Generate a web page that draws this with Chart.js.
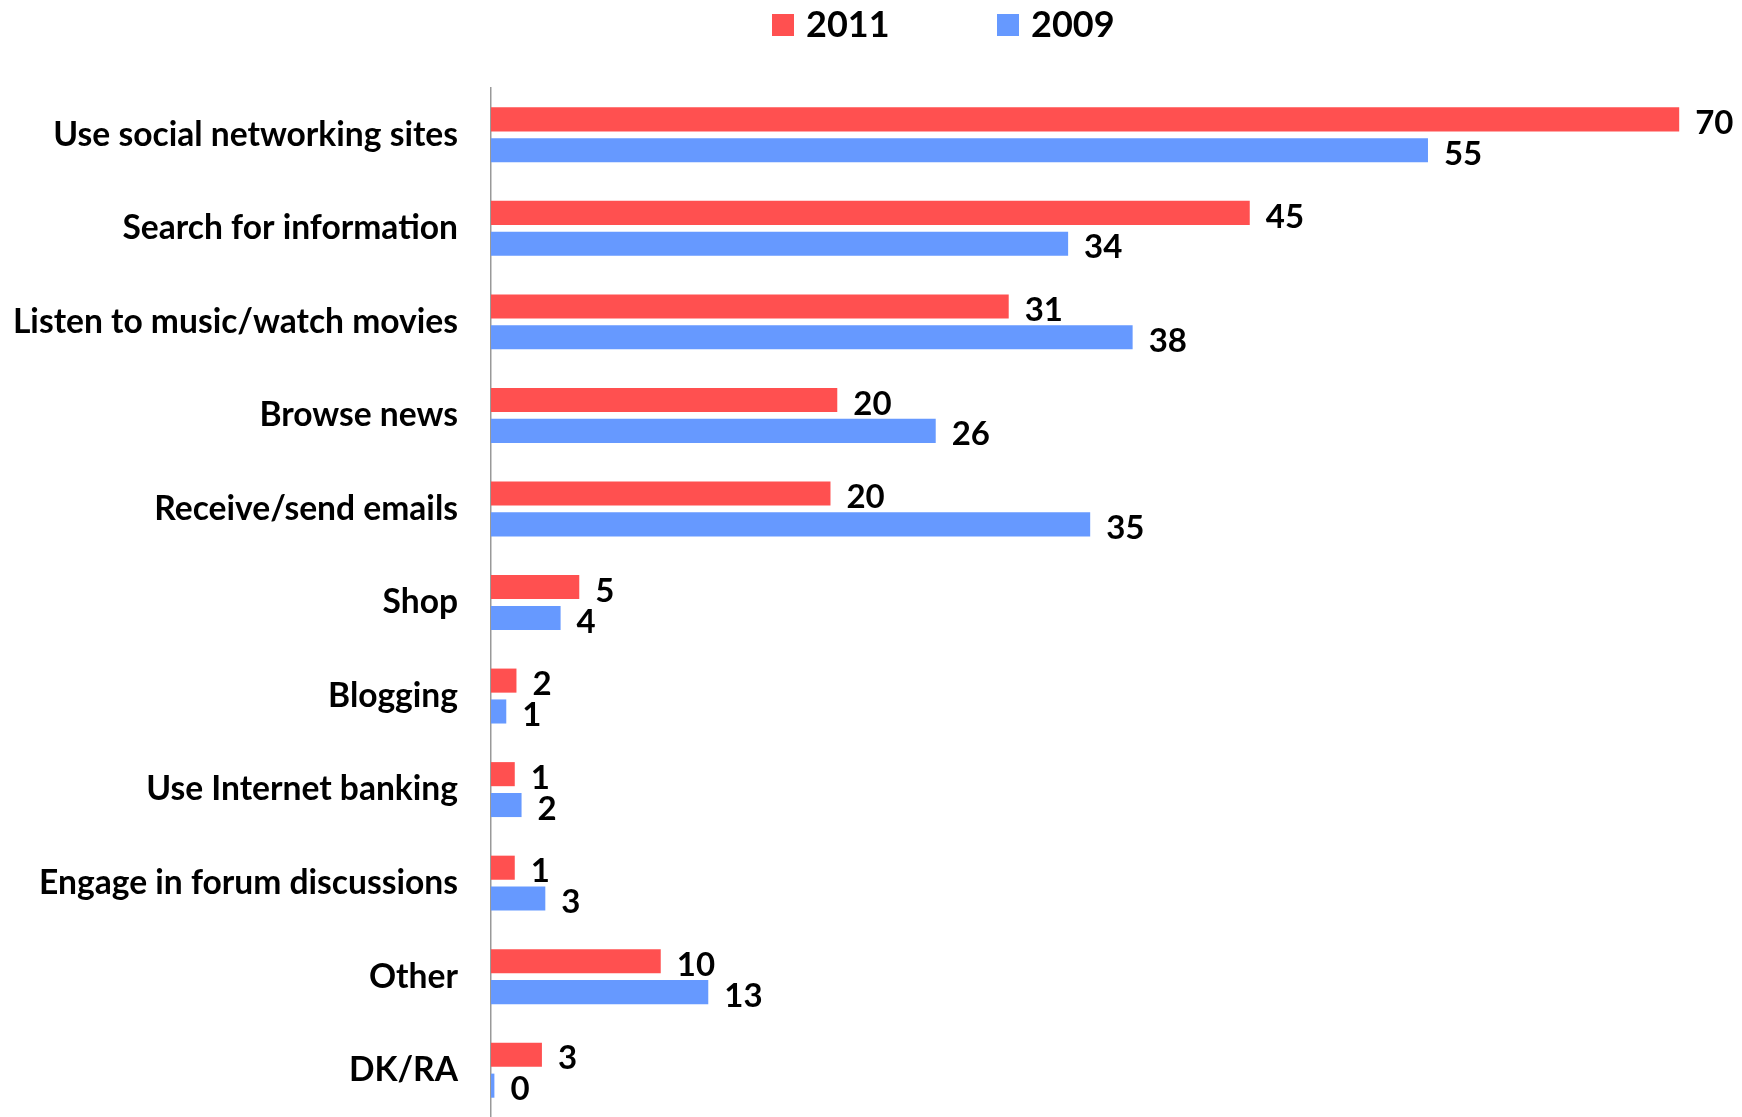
<!DOCTYPE html>
<html>
<head>
<meta charset="utf-8">
<script src="https://cdn.jsdelivr.net/npm/chart.js@4.4.1/dist/chart.umd.min.js"></script>
<style>
  html, body { margin: 0; padding: 0; background: #fff; overflow: hidden; }
  #wrap { position: relative; width: 1742px; height: 1117px; }
</style>
</head>
<body>
<div id="wrap"><canvas id="chart"></canvas></div>
<script>
// Chart data (bar lengths, labels show rounded values)
const categories = [
  "Use social networking sites",
  "Search for information",
  "Listen to music/watch movies",
  "Browse news",
  "Receive/send emails",
  "Shop",
  "Blogging",
  "Use Internet banking",
  "Engage in forum discussions",
  "Other",
  "DK/RA"
];
const values2011 = [70, 44.7, 30.5, 20.4, 20.0, 5.2, 1.5, 1.4, 1.4, 10.0, 3.0];
const values2009 = [55.2, 34.0, 37.8, 26.2, 35.3, 4.1, 0.9, 1.8, 3.2, 12.8, 0.2];
const seriesNames = ["2011", "2009"];
const seriesColors = ["#FF5050", "#6699FF"];

const FONT = 'Lato, "Open Sans", sans-serif';
Chart.defaults.font.family = FONT;
Chart.defaults.color = "#000";

// value labels at the end of each bar
const valueLabels = {
  id: "valueLabels",
  afterDatasetsDraw(chart) {
    const ctx = chart.ctx;
    ctx.save();
    ctx.font = "bold 33px " + FONT;
    ctx.fillStyle = "#000";
    ctx.textAlign = "left";
    ctx.textBaseline = "middle";
    chart.data.datasets.forEach((ds, di) => {
      const meta = chart.getDatasetMeta(di);
      meta.data.forEach((bar, i) => {
        ctx.fillText(String(Math.round(ds.data[i])), bar.x + 16, bar.y + 4);
      });
    });
    ctx.restore();
  }
};

// legend drawn across the top
const topLegend = {
  id: "topLegend",
  afterDraw(chart) {
    const ctx = chart.ctx;
    ctx.save();
    ctx.font = "bold 36px " + FONT;
    ctx.textAlign = "left";
    ctx.textBaseline = "middle";
    chart.data.datasets.forEach((ds, i) => {
      const x = 772 + i * 225;
      ctx.fillStyle = ds.backgroundColor;
      ctx.fillRect(x, 14, 22, 22);
      ctx.fillStyle = "#000";
      ctx.fillText(ds.label, x + 34, 25);
    });
    ctx.restore();
  }
};

new Chart(document.getElementById("chart"), {
  type: "bar",
  data: {
    labels: categories,
    datasets: [
      { label: seriesNames[0], data: values2011, backgroundColor: seriesColors[0] },
      { label: seriesNames[1], data: values2009, backgroundColor: seriesColors[1] }
    ]
  },
  options: {
    indexAxis: "y",
    responsive: true,
    maintainAspectRatio: false,
    devicePixelRatio: 1,
    animation: false,
    categoryPercentage: 0.66,
    barPercentage: 0.78,
    layout: { padding: { top: 88, bottom: -3, left: 0, right: 0 } },
    plugins: {
      legend: { display: false },
      tooltip: { enabled: false }
    },
    scales: {
      x: {
        display: false,
        min: 0,
        max: 73.7
      },
      y: {
        grid: { display: false, drawTicks: false, tickLength: 0 },
        border: { display: true, color: "#999", width: 1.5 },
        ticks: {
          autoSkip: false,
          padding: 33,
          color: "#000",
          font: { size: 33.6, weight: "bold" }
        },
        afterFit(axis) {
          // fixed gutter for the labels, and no extra room reserved below the last one
          axis.width = 491;
          axis.paddingTop = 0;
          axis.paddingBottom = 0;
        }
      }
    }
  },
  plugins: [valueLabels, topLegend]
});
</script>
</body>
</html>
